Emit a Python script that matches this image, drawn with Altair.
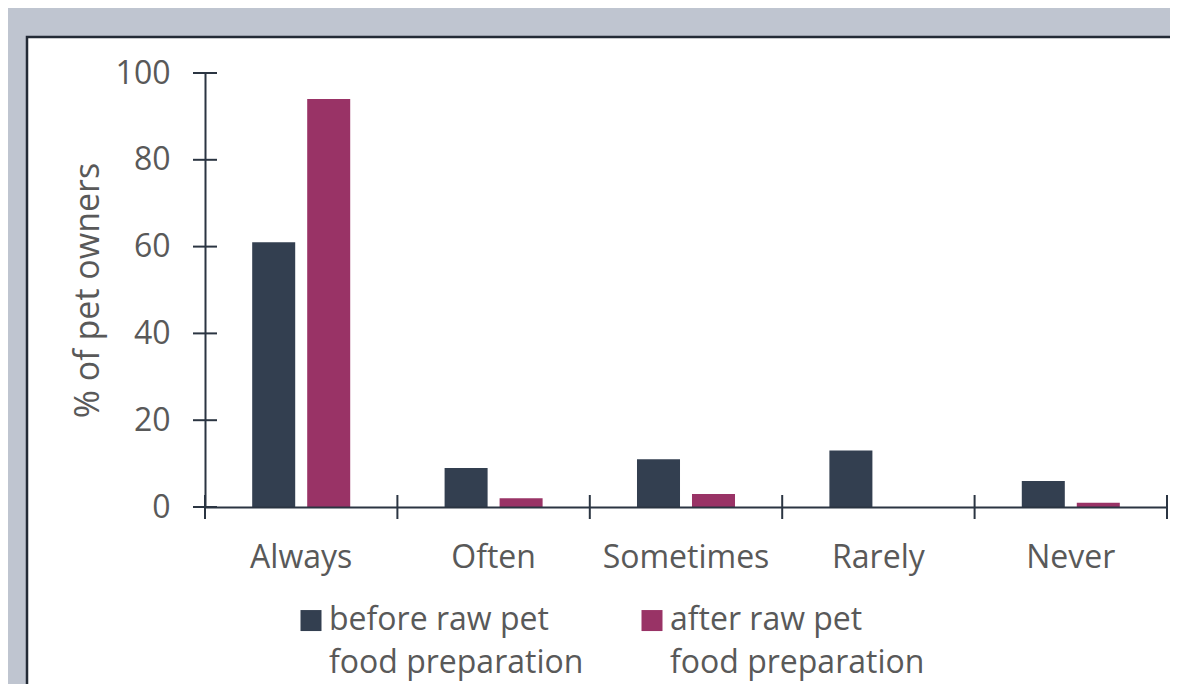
import json
import altair as alt
import pandas as pd

# ---- data ----
categories = ["Always", "Often", "Sometimes", "Rarely", "Never"]
before_values = [61, 9, 11, 13, 6]
after_values = [94, 2, 3, 0, 1]
series_keys = ["before", "after"]
series_lines = [["before raw pet", "food preparation"],
                ["after raw pet", "\u00a0food preparation"]]
series_colors = ["#333F50", "#993366"]
y_ticks = [0, 20, 40, 60, 80, 100]
y_title = "% of pet owners"

rows = []
for c, b, a in zip(categories, before_values, after_values):
    rows.append({"category": c, "series": series_keys[0], "value": b})
    rows.append({"category": c, "series": series_keys[1], "value": a})
df = pd.DataFrame(rows)
tick_df = pd.DataFrame({"value": y_ticks})
cat_df = pd.DataFrame({"category": categories})
last_df = pd.DataFrame({"category": categories[-1:]})

W, H = 962, 434
FONT = "Open Sans"
TEXT = "#595959"
AXIS = "#2B3542"

label_expr = " : ".join(
    [f"datum.label == {json.dumps(k)} ? {json.dumps(lines)}" for k, lines in zip(series_keys[:-1], series_lines[:-1])]
    + [json.dumps(series_lines[-1])]
)

x_scale = alt.Scale(domain=categories, paddingInner=0, paddingOuter=0)
y_scale = alt.Scale(domain=[0, 100], nice=False)

x_axis = alt.Axis(title=None, ticks=False, tickSize=0, labelPadding=35, labelFont=FONT,
                  labelFontSize=32, labelColor=TEXT, labelAngle=0, domainColor=AXIS,
                  domainWidth=2, grid=False, zindex=1)
y_axis = alt.Axis(title=y_title, values=y_ticks, ticks=False, tickSize=0, labelPadding=35,
                  labelFont=FONT, labelFontSize=32, labelColor=TEXT, domainColor=AXIS,
                  domainWidth=2, grid=False, titleFont=FONT, titleFontSize=34,
                  titleFontWeight="normal", titleColor=TEXT, titlePadding=10, zindex=1)

panel = alt.Chart(pd.DataFrame({"p": [0]})).mark_rect(
    fill="white", stroke="#232B36", strokeWidth=2.5
).encode(
    x=alt.value(-178), x2=alt.value(W + 40), y=alt.value(-36), y2=alt.value(H + 400)
)

bars = alt.Chart(df).mark_bar().encode(
    x=alt.X("category:N", sort=categories, scale=x_scale, axis=x_axis),
    xOffset=alt.XOffset("series:N", sort=series_keys,
                        scale=alt.Scale(domain=series_keys, paddingInner=0.218, paddingOuter=0.858)),
    y=alt.Y("value:Q", scale=y_scale, axis=y_axis),
    color=alt.Color(
        "series:N", sort=series_keys,
        scale=alt.Scale(domain=series_keys, range=series_colors),
        legend=alt.Legend(
            title=None, orient="none", legendX=90, legendY=541, direction="horizontal",
            symbolType="M-1,-1.9H1V0.1H-1Z", symbolSize=441, symbolStrokeWidth=0,
            labelExpr=label_expr, labelFont=FONT, labelFontSize=32, labelColor=TEXT,
            labelBaseline="alphabetic", labelOffset=2, labelLimit=600, columnPadding=52,
            padding=0,
        ),
    ),
)

y_tick_rules = alt.Chart(tick_df).mark_rule(color=AXIS, strokeWidth=2).encode(
    y=alt.Y("value:Q", scale=y_scale), x=alt.value(-12), x2=alt.value(12)
)
x_tick_rules = alt.Chart(cat_df).mark_rule(color=AXIS, strokeWidth=2).encode(
    x=alt.X("category:N", sort=categories, scale=x_scale, bandPosition=0),
    y=alt.value(H - 12), y2=alt.value(H + 12),
)
x_last_rule = alt.Chart(last_df).mark_rule(color=AXIS, strokeWidth=2).encode(
    x=alt.X("category:N", sort=categories, scale=x_scale, bandPosition=1),
    y=alt.value(H - 12), y2=alt.value(H + 12),
)

chart = alt.layer(panel, bars, y_tick_rules, x_tick_rules, x_last_rule).properties(
    width=W, height=H,
    autosize=alt.AutoSizeParams(type="none"),
    padding={"left": 197, "top": 65, "right": 3, "bottom": 177},
    background="#BFC5D0",
).configure(
    view={"strokeWidth": 0},
    style={"guide-label": {"lineHeight": 43}},
)

chart.save("out.html", embed_options={"renderer": "svg", "actions": False})
